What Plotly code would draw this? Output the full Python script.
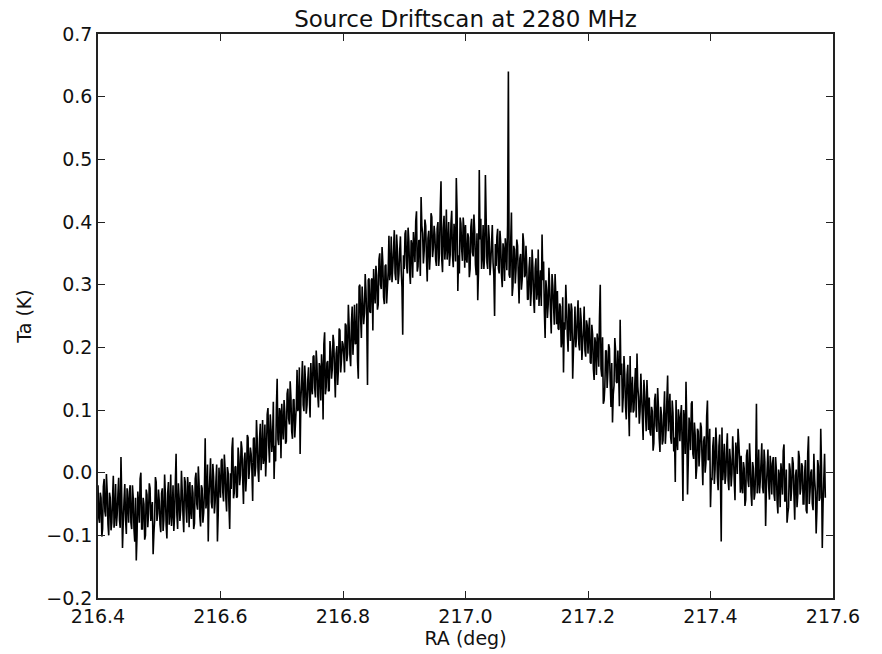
import numpy as np
import plotly.graph_objects as go

# Drift-scan samples (antenna temperature, K).
# ta_* : samples every 0.0025 deg from 216.40; mid_* : samples halfway between them.
ra_start = 216.40
ra_step = 0.0025

ta_west = [
    -0.02, -0.08, -0.04, -0.09, -0.01, -0.07, -0.03, -0.10, -0.04, -0.08, -0.005, -0.065, -0.085, -0.035, -0.075, 0.025, -0.12, -0.045, -0.075, -0.025,
    -0.08, -0.02, -0.09, -0.04, -0.11, -0.14, -0.03, -0.08, 0.00, -0.09, -0.05, -0.10, -0.035, -0.065, -0.025, -0.06, -0.13, -0.075, -0.015, -0.065,
    -0.045, -0.095, -0.025, -0.075, -0.035, -0.105, -0.015, -0.065, -0.085, -0.02, -0.07, 0.03, -0.09, -0.04, -0.06, -0.03, -0.095, -0.015, -0.08, -0.025,
    -0.015, -0.074, -0.032, -0.081, 0.00, -0.059, -0.017, -0.086, -0.025, -0.064, 0.055, -0.041, -0.11, -0.009, -0.047, 0.014, -0.065, -0.014, -0.11, 0.008,
]
ta_rise = [
    -0.04, 0.022, -0.046, 0.006, -0.062, 0.0, -0.09, -0.026, 0.056, -0.032, 0.01, -0.038, 0.024, -0.004, 0.038, -0.05, 0.032, -0.006, 0.056, 0.008,
    0.03, -0.045, 0.056, 0.009, 0.052, -0.015, 0.078, 0.031, 0.014, 0.077, 0.03, 0.103, 0.016, 0.069, 0.052, -0.01, 0.018, 0.15, 0.044, 0.097,
    0.11, 0.053, 0.097, 0.05, 0.134, 0.077, 0.12, 0.054, 0.117, 0.08, 0.164, 0.107, 0.03, 0.144, 0.108, 0.171, 0.094, 0.148, 0.121, 0.175,
    0.125, 0.187, 0.12, 0.172, 0.104, 0.167, 0.189, 0.085, 0.224, 0.136, 0.178, 0.131, 0.193, 0.165, 0.208, 0.12, 0.202, 0.165, 0.227, 0.18,
    0.205, 0.16, 0.235, 0.19, 0.235, 0.17, 0.265, 0.22, 0.205, 0.27, 0.15, 0.30, 0.215, 0.27, 0.255, 0.29, 0.14, 0.31, 0.255, 0.31,
    0.325, 0.27, 0.315, 0.268, 0.35, 0.293, 0.336, 0.269, 0.332, 0.295, 0.378, 0.321, 0.304, 0.356, 0.318, 0.38, 0.301, 0.352, 0.323, 0.22,
]
ta_peak = [
    0.325, 0.387, 0.318, 0.37, 0.301, 0.363, 0.384, 0.336, 0.417, 0.329, 0.37, 0.44, 0.382, 0.353, 0.394, 0.305, 0.386, 0.347, 0.408, 0.359,
    0.38, 0.33, 0.40, 0.35, 0.465, 0.32, 0.41, 0.36, 0.34, 0.40, 0.348, 0.418, 0.328, 0.378, 0.47, 0.29, 0.318, 0.398, 0.338, 0.388,
    0.395, 0.335, 0.375, 0.325, 0.405, 0.345, 0.385, 0.315, 0.275, 0.483, 0.405, 0.345, 0.325, 0.475, 0.335, 0.395, 0.315, 0.365, 0.335, 0.25,
    0.33, 0.389, 0.318, 0.367, 0.296, 0.355, 0.374, 0.323, 0.64, 0.311, 0.415, 0.298, 0.356, 0.324, 0.362, 0.27, 0.349, 0.308, 0.367, 0.315,
]
ta_fall = [
    0.33, 0.277, 0.344, 0.291, 0.328, 0.255, 0.342, 0.289, 0.266, 0.323, 0.38, 0.337, 0.215, 0.291, 0.268, 0.295, 0.222, 0.299, 0.236, 0.283,
    0.29, 0.228, 0.265, 0.213, 0.16, 0.228, 0.265, 0.193, 0.25, 0.27, 0.15, 0.223, 0.2, 0.248, 0.205, 0.263, 0.18, 0.228, 0.195, 0.243,
    0.19, 0.247, 0.174, 0.221, 0.148, 0.205, 0.222, 0.169, 0.30, 0.153, 0.11, 0.137, 0.194, 0.161, 0.198, 0.105, 0.08, 0.139, 0.196, 0.143,
    0.16, 0.244, 0.174, 0.121, 0.158, 0.085, 0.172, 0.058, 0.096, 0.153, 0.1, 0.167, 0.19, 0.121, 0.098, 0.125, 0.052, 0.129, 0.066, 0.113,
    0.12, 0.059, 0.098, 0.047, 0.126, 0.065, 0.104, 0.033, 0.092, 0.051, 0.13, 0.069, 0.155, 0.097, 0.056, 0.115, 0.034, -0.015, 0.052, 0.101,
    0.05, 0.108, -0.045, 0.084, 0.145, -0.035, 0.088, 0.036, 0.114, 0.022, 0.06, 0.008, 0.066, 0.034, 0.072, -0.02, 0.058, 0.016, 0.115, 0.022,
]
ta_east = [
    -0.055, -0.012, 0.057, 0.005, 0.044, -0.028, 0.061, -0.11, -0.012, 0.046, -0.005, 0.063, -0.028, 0.02, -0.001, 0.027, -0.044, 0.034, 0.07, 0.021,
    0.027, -0.033, 0.007, -0.043, 0.037, -0.023, 0.017, -0.053, 0.007, -0.033, 0.11, -0.013, -0.033, 0.017, -0.023, 0.037, -0.085, 0.007, -0.023, 0.027,
    -0.035, 0.025, -0.045, 0.005, -0.065, -0.005, 0.015, -0.035, 0.045, -0.045, -0.08, -0.055, 0.005, -0.025, 0.015, -0.075, 0.005, -0.035, 0.025, -0.025,
    0.01, -0.05, 0.02, -0.065, 0.058, -0.03, 0.005, -0.06, -0.01, -0.097, 0.02, -0.045, 0.07, -0.12, -0.01, -0.04,
]

mid_west = [
    -0.072, -0.032, -0.102, -0.022, -0.062, -0.002, -0.082, -0.032, -0.092, -0.042, -0.088, -0.018, -0.068, -0.008, -0.088, -0.038, -0.078, -0.018, -0.098, -0.048,
    -0.03, -0.08, -0.02, -0.09, -0.04, -0.10, -0.05, -0.01, -0.09, -0.04, -0.107, -0.027, -0.087, -0.017, -0.077, -0.047, -0.097, -0.007, -0.077, -0.027,
    -0.083, -0.033, -0.093, -0.003, -0.083, -0.033, -0.083, -0.003, -0.063, -0.093, -0.017, -0.067, -0.017, -0.077, 0.003, -0.067, -0.007, -0.057, -0.007, -0.087,
    -0.06, -0.02, -0.09, -0.01, -0.05, 0.01, -0.07, -0.02, -0.08, -0.03, -0.057, 0.013, -0.037, 0.023, -0.057, -0.007, -0.047, 0.013, -0.067, -0.017,
]
mid_rise = [
    0.019, -0.031, 0.029, -0.041, 0.009, -0.051, -0.001, 0.039, -0.041, 0.009, -0.04, 0.04, -0.02, 0.05, -0.01, 0.02, -0.03, 0.06, -0.01, 0.04,
    0.004, 0.054, -0.006, 0.084, 0.004, 0.054, 0.004, 0.084, 0.024, -0.006, 0.093, 0.043, 0.093, 0.033, 0.113, 0.043, 0.103, 0.053, 0.103, 0.023,
    0.076, 0.116, 0.046, 0.126, 0.086, 0.146, 0.066, 0.116, 0.056, 0.106, 0.098, 0.168, 0.118, 0.178, 0.098, 0.148, 0.108, 0.168, 0.088, 0.138,
    0.185, 0.135, 0.195, 0.125, 0.175, 0.115, 0.165, 0.205, 0.125, 0.175, 0.13, 0.21, 0.15, 0.22, 0.16, 0.19, 0.14, 0.23, 0.16, 0.21,
    0.188, 0.238, 0.178, 0.268, 0.188, 0.238, 0.188, 0.268, 0.208, 0.178, 0.297, 0.247, 0.297, 0.237, 0.317, 0.247, 0.307, 0.257, 0.307, 0.227,
    0.29, 0.33, 0.26, 0.34, 0.30, 0.36, 0.28, 0.33, 0.27, 0.32, 0.307, 0.377, 0.327, 0.387, 0.307, 0.357, 0.317, 0.377, 0.297, 0.347,
]
mid_peak = [
    0.381, 0.331, 0.391, 0.321, 0.371, 0.311, 0.361, 0.401, 0.321, 0.371, 0.314, 0.394, 0.334, 0.404, 0.344, 0.374, 0.324, 0.414, 0.344, 0.394,
    0.34, 0.39, 0.33, 0.42, 0.34, 0.39, 0.34, 0.42, 0.36, 0.33, 0.397, 0.347, 0.397, 0.337, 0.417, 0.347, 0.407, 0.357, 0.407, 0.327,
    0.342, 0.382, 0.312, 0.392, 0.352, 0.412, 0.332, 0.382, 0.322, 0.372, 0.325, 0.395, 0.345, 0.405, 0.325, 0.375, 0.335, 0.395, 0.315, 0.365,
    0.376, 0.326, 0.386, 0.316, 0.366, 0.306, 0.356, 0.396, 0.316, 0.366, 0.282, 0.362, 0.302, 0.372, 0.312, 0.342, 0.292, 0.382, 0.312, 0.362,
]
mid_fall = [
    0.276, 0.326, 0.266, 0.356, 0.276, 0.326, 0.276, 0.356, 0.296, 0.266, 0.307, 0.257, 0.307, 0.247, 0.327, 0.257, 0.317, 0.267, 0.317, 0.237,
    0.23, 0.27, 0.20, 0.28, 0.24, 0.30, 0.22, 0.27, 0.21, 0.26, 0.195, 0.265, 0.215, 0.275, 0.195, 0.245, 0.205, 0.265, 0.185, 0.235,
    0.226, 0.176, 0.236, 0.166, 0.216, 0.156, 0.206, 0.246, 0.166, 0.216, 0.115, 0.195, 0.135, 0.205, 0.145, 0.175, 0.125, 0.215, 0.145, 0.195,
    0.106, 0.156, 0.096, 0.186, 0.106, 0.156, 0.106, 0.186, 0.126, 0.096, 0.138, 0.088, 0.138, 0.078, 0.158, 0.088, 0.148, 0.098, 0.148, 0.068,
    0.065, 0.105, 0.035, 0.115, 0.075, 0.135, 0.055, 0.105, 0.045, 0.095, 0.046, 0.116, 0.066, 0.126, 0.046, 0.096, 0.056, 0.116, 0.036, 0.086,
    0.09, 0.04, 0.10, 0.03, 0.08, 0.02, 0.07, 0.11, 0.03, 0.08, -0.01, 0.07, 0.01, 0.08, 0.02, 0.05, 0.0, 0.09, 0.02, 0.07,
]
mid_east = [
    -0.008, 0.042, -0.018, 0.072, -0.008, 0.042, -0.008, 0.072, 0.012, -0.018, 0.038, -0.012, 0.038, -0.022, 0.058, -0.012, 0.048, -0.002, 0.048, -0.032,
    -0.023, 0.017, -0.053, 0.027, -0.013, 0.047, -0.033, 0.017, -0.043, 0.007, -0.033, 0.037, -0.013, 0.047, -0.033, 0.017, -0.023, 0.037, -0.043, 0.007,
    0.015, -0.035, 0.025, -0.045, 0.005, -0.055, -0.005, 0.035, -0.045, 0.005, -0.065, 0.015, -0.045, 0.025, -0.035, -0.005, -0.055, 0.035, -0.035, 0.015,
    -0.05, 0.0, -0.06, 0.03, -0.05, 0.0, -0.05, 0.03, -0.03, -0.06, 0.01, -0.04, 0.01, -0.05, 0.03,
]

x_ticks = [216.4, 216.6, 216.8, 217.0, 217.2, 217.4, 217.6]
y_ticks = [-0.2, -0.1, 0.0, 0.1, 0.2, 0.3, 0.4, 0.5, 0.6, 0.7]

ta_main = np.array(ta_west + ta_rise + ta_peak + ta_fall + ta_east)
ta_mid = np.array(mid_west + mid_rise + mid_peak + mid_fall + mid_east)
n = min(len(ta_main), len(ta_mid) + 1)
ta_main = ta_main[:n]
ta_mid = ta_mid[:n - 1]

ta = np.empty(2 * n - 1)
ta[0::2] = ta_main
ta[1::2] = ta_mid
ra = ra_start + (ra_step / 2) * np.arange(len(ta))

fig = go.Figure(
    go.Scatter(x=ra, y=ta, mode="lines",
               line=dict(color="black", width=1.6, simplify=False), hoverinfo="skip")
)

axis_common = dict(
    showline=True, linecolor="#222222", linewidth=1.5, mirror="allticks",
    ticks="inside", ticklen=7, tickwidth=1, tickcolor="#222222",
    showgrid=False, zeroline=False, tickfont=dict(size=19, color="#111111"),
    tickformat=".1f",
)

fig.update_layout(
    width=882, height=654,
    margin=dict(l=98, r=49, t=34, b=51),
    paper_bgcolor="white", plot_bgcolor="white",
    font=dict(family="DejaVu Sans", color="#111111"),
    showlegend=False,
    title=dict(text="Source Driftscan at 2280 MHz", font=dict(size=23),
               xref="paper", x=0.5, xanchor="center",
               yref="container", y=1 - 18.5 / 654, yanchor="middle"),
    xaxis=dict(range=[216.4, 217.6], tickvals=x_ticks,
               title=dict(text="RA (deg)", font=dict(size=19), standoff=2), **axis_common),
    yaxis=dict(range=[-0.2, 0.7], tickvals=y_ticks,
               title=dict(text="Ta (K)", font=dict(size=19), standoff=10), **axis_common),
)

fig.write_html("out.html")
